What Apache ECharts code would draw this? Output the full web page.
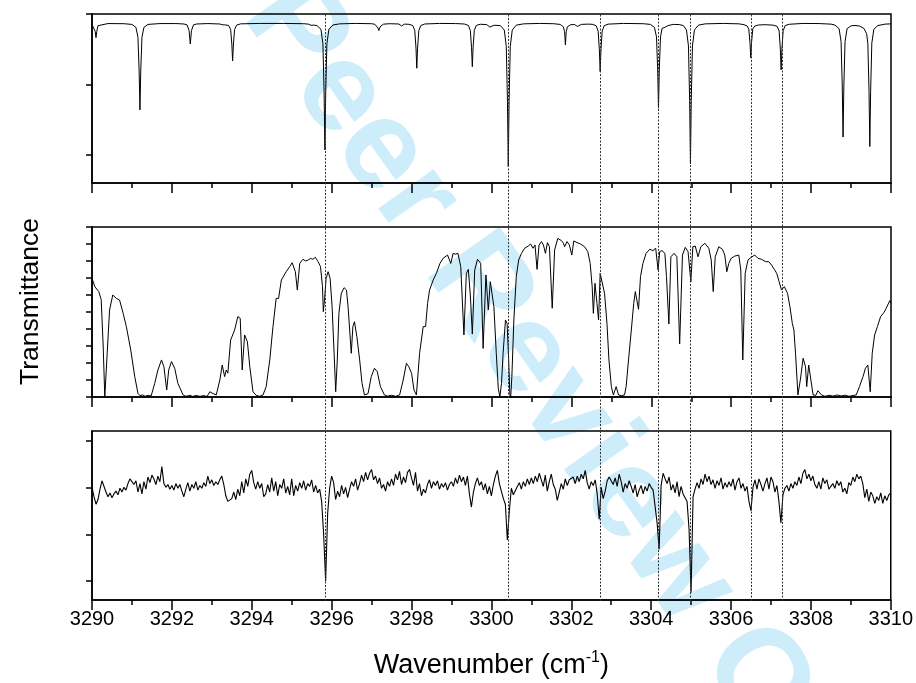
<!DOCTYPE html>
<html><head><meta charset="utf-8">
<script src="https://cdn.jsdelivr.net/npm/echarts@6/dist/echarts.min.js"></script>
<style>html,body{margin:0;padding:0;background:#fff}#c{width:916px;height:683px}</style>
</head><body><div id="c"></div>
<script>
// ---- data ----
const xRange = [3290, 3310];
const markerLines = [3295.83, 3300.42, 3302.72, 3304.18, 3304.98, 3306.49, 3307.27];

const topSpectrum = [
[3290.00,0.925],[3290.05,0.917],[3290.08,0.877],[3290.10,0.832],[3290.12,0.877],[3290.15,0.917],[3290.20,0.928],[3290.40,0.932],[3290.80,0.931],
[3291.00,0.926],[3291.10,0.905],[3291.15,0.835],[3291.18,0.595],[3291.20,0.319],[3291.22,0.595],[3291.25,0.835],[3291.30,0.905],[3291.40,0.926],[3291.70,0.932],[3292.10,0.932],
[3292.30,0.929],[3292.38,0.923],[3292.43,0.882],[3292.46,0.787],[3292.49,0.882],[3292.54,0.923],[3292.62,0.929],[3292.90,0.932],
[3293.20,0.929],[3293.26,0.924],[3293.29,0.915],[3293.32,0.923],[3293.42,0.919],[3293.47,0.890],[3293.50,0.787],[3293.52,0.667],[3293.54,0.787],[3293.57,0.890],[3293.62,0.921],[3293.72,0.930],[3294.20,0.933],[3294.80,0.933],
[3295.30,0.931],[3295.42,0.928],[3295.48,0.920],[3295.51,0.912],[3295.55,0.921],[3295.63,0.918],[3295.73,0.892],[3295.78,0.789],[3295.81,0.439],[3295.83,0.035],[3295.85,0.439],[3295.88,0.789],[3295.93,0.892],[3296.03,0.922],[3296.20,0.930],[3296.60,0.933],
[3297.00,0.931],[3297.08,0.927],[3297.13,0.915],[3297.16,0.900],[3297.18,0.882],[3297.20,0.900],[3297.23,0.915],[3297.30,0.928],[3297.45,0.931],[3297.68,0.929],[3297.75,0.915],[3297.82,0.928],
[3297.93,0.927],[3298.03,0.918],[3298.08,0.882],[3298.11,0.758],[3298.13,0.615],[3298.15,0.758],[3298.18,0.882],[3298.23,0.918],[3298.33,0.929],[3298.70,0.933],[3299.10,0.932],
[3299.32,0.929],[3299.42,0.919],[3299.47,0.884],[3299.50,0.764],[3299.52,0.626],[3299.54,0.764],[3299.57,0.884],[3299.62,0.919],[3299.72,0.927],[3299.88,0.925],[3299.93,0.915],[3299.96,0.907],[3299.99,0.914],[3300.06,0.920],
[3300.22,0.918],[3300.32,0.886],[3300.37,0.770],[3300.40,0.374],[3300.42,-0.083],[3300.44,0.374],[3300.47,0.770],[3300.52,0.886],[3300.62,0.921],[3300.80,0.930],[3301.20,0.933],[3301.55,0.931],
[3301.72,0.926],[3301.80,0.909],[3301.83,0.874],[3301.85,0.780],[3301.87,0.874],[3301.90,0.909],[3301.98,0.924],[3302.08,0.925],[3302.12,0.918],[3302.15,0.912],[3302.18,0.918],[3302.25,0.926],[3302.40,0.928],
[3302.52,0.927],[3302.62,0.917],[3302.67,0.878],[3302.70,0.745],[3302.72,0.591],[3302.74,0.745],[3302.77,0.878],[3302.82,0.917],[3302.92,0.928],[3303.30,0.933],[3303.80,0.931],
[3303.98,0.926],[3304.08,0.905],[3304.13,0.837],[3304.16,0.602],[3304.18,0.331],[3304.20,0.602],[3304.23,0.837],[3304.27,0.898],[3304.30,0.893],[3304.34,0.905],[3304.42,0.918],[3304.55,0.926],
[3304.70,0.925],[3304.80,0.918],[3304.88,0.887],[3304.93,0.773],[3304.96,0.385],[3304.98,-0.064],[3305.00,0.385],[3305.03,0.773],[3305.08,0.887],[3305.18,0.921],[3305.35,0.930],[3305.80,0.933],
[3306.20,0.930],[3306.32,0.924],[3306.40,0.915],[3306.44,0.894],[3306.47,0.799],[3306.49,0.690],[3306.51,0.799],[3306.54,0.894],[3306.59,0.914],[3306.68,0.922],[3306.85,0.924],
[3307.05,0.921],[3307.15,0.912],[3307.20,0.880],[3307.23,0.751],[3307.25,0.603],[3307.27,0.751],[3307.30,0.880],[3307.35,0.918],[3307.45,0.927],[3307.80,0.933],[3308.20,0.932],
[3308.50,0.928],[3308.60,0.921],[3308.70,0.896],[3308.75,0.804],[3308.78,0.489],[3308.80,0.126],[3308.82,0.489],[3308.85,0.804],[3308.90,0.896],[3309.00,0.916],[3309.10,0.919],
[3309.22,0.914],[3309.32,0.898],[3309.39,0.860],[3309.42,0.793],[3309.45,0.452],[3309.47,0.059],[3309.49,0.452],[3309.52,0.793],[3309.57,0.891],[3309.67,0.918],[3309.85,0.928],[3310.00,0.930]
];

const middleSpectrum = [
[3290.00,0.698],[3290.07,0.649],[3290.17,0.62],[3290.23,0.573],[3290.28,0.3],[3290.32,0.0],[3290.38,0.257],[3290.44,0.512],[3290.52,0.6],[3290.57,0.59],[3290.61,0.58],[3290.69,0.57],[3290.78,0.492],[3290.86,0.414],[3290.97,0.276],[3291.07,0.12],[3291.15,0.022],[3291.20,0.008],[3291.27,0.012],[3291.33,0.004],[3291.40,0.01],[3291.48,0.006],
[3291.57,0.08],[3291.65,0.159],[3291.74,0.218],[3291.80,0.178],[3291.87,0.041],[3291.92,0.159],[3291.99,0.208],[3292.07,0.169],[3292.15,0.08],[3292.28,0.012],[3292.35,0.004],[3292.45,0.01],[3292.52,0.003],[3292.60,0.009],[3292.70,0.004],[3292.80,0.008],[3292.88,0.003],[3292.95,0.031],[3293.03,0.02],[3293.11,0.012],
[3293.20,0.1],[3293.26,0.188],[3293.32,0.12],[3293.36,0.159],[3293.40,0.14],[3293.47,0.335],[3293.57,0.394],[3293.65,0.473],[3293.71,0.463],[3293.76,0.159],[3293.82,0.365],[3293.89,0.325],[3293.95,0.178],[3294.03,0.031],[3294.11,0.01],[3294.20,0.004],[3294.28,0.012],
[3294.36,0.061],[3294.45,0.218],[3294.53,0.414],[3294.61,0.58],[3294.67,0.58],[3294.74,0.688],[3294.86,0.737],[3294.95,0.767],[3295.01,0.79],[3295.09,0.737],[3295.14,0.629],[3295.20,0.786],[3295.28,0.81],[3295.35,0.80],[3295.41,0.806],[3295.47,0.815],[3295.53,0.81],[3295.59,0.822],[3295.66,0.796],[3295.72,0.767],
[3295.77,0.649],[3295.79,0.502],[3295.82,0.571],[3295.86,0.698],[3295.91,0.737],[3295.96,0.698],[3296.01,0.531],[3296.06,0.257],[3296.10,0.031],[3296.14,0.218],[3296.18,0.492],[3296.24,0.61],[3296.31,0.643],[3296.37,0.629],[3296.41,0.531],[3296.45,0.394],[3296.49,0.257],
[3296.53,0.414],[3296.57,0.443],[3296.63,0.355],[3296.70,0.218],[3296.76,0.08],[3296.82,0.012],[3296.91,0.02],[3296.99,0.12],[3297.07,0.169],[3297.14,0.149],[3297.22,0.061],[3297.32,0.012],[3297.40,0.005],[3297.50,0.01],[3297.60,0.004],[3297.70,0.012],
[3297.79,0.1],[3297.87,0.198],[3297.93,0.178],[3298.00,0.139],[3298.06,0.041],[3298.12,0.012],[3298.20,0.257],[3298.29,0.414],[3298.35,0.414],[3298.40,0.551],[3298.45,0.629],[3298.54,0.688],[3298.62,0.727],[3298.71,0.786],[3298.79,0.816],[3298.90,0.835],[3298.98,0.786],
[3299.04,0.845],[3299.10,0.84],[3299.16,0.845],[3299.23,0.767],[3299.31,0.365],[3299.37,0.727],[3299.42,0.751],[3299.47,0.6],[3299.52,0.37],[3299.58,0.747],[3299.65,0.81],[3299.73,0.786],[3299.79,0.286],[3299.86,0.718],[3299.92,0.512],[3299.97,0.678],
[3300.01,0.67],[3300.06,0.531],[3300.12,0.257],[3300.17,0.05],[3300.21,0.0],[3300.25,0.08],[3300.29,0.257],[3300.35,0.453],[3300.39,0.433],[3300.43,0.218],[3300.46,0.012],[3300.48,0.0],[3300.51,0.12],[3300.56,0.453],[3300.62,0.708],[3300.68,0.806],[3300.75,0.845],
[3300.83,0.875],[3300.88,0.87],[3300.92,0.888],[3300.98,0.9],[3301.04,0.875],[3301.09,0.894],[3301.14,0.751],[3301.19,0.894],[3301.25,0.914],[3301.30,0.894],[3301.35,0.845],[3301.40,0.908],[3301.45,0.884],[3301.52,0.522],[3301.58,0.865],[3301.66,0.933],[3301.70,0.925],
[3301.75,0.92],[3301.80,0.905],[3301.83,0.884],[3301.89,0.914],[3301.95,0.894],[3302.01,0.835],[3302.06,0.918],[3302.10,0.91],[3302.14,0.908],[3302.18,0.912],[3302.23,0.9],[3302.28,0.895],[3302.33,0.884],[3302.41,0.855],[3302.47,0.786],[3302.52,0.649],[3302.55,0.492],
[3302.59,0.669],[3302.64,0.551],[3302.68,0.453],[3302.72,0.727],[3302.77,0.718],[3302.83,0.61],[3302.89,0.433],[3302.94,0.218],[3303.00,0.061],[3303.05,0.012],[3303.12,0.061],[3303.18,0.012],[3303.25,0.008],[3303.33,0.012],[3303.37,0.061],[3303.43,0.218],
[3303.50,0.394],[3303.56,0.551],[3303.60,0.62],[3303.64,0.629],[3303.68,0.516],[3303.73,0.708],[3303.79,0.786],[3303.87,0.845],[3303.96,0.869],[3304.04,0.861],[3304.11,0.875],[3304.17,0.747],[3304.21,0.855],[3304.27,0.861],[3304.34,0.845],[3304.38,0.708],
[3304.44,0.429],[3304.49,0.825],[3304.57,0.845],[3304.64,0.825],[3304.71,0.312],[3304.78,0.835],[3304.85,0.88],[3304.92,0.855],[3304.99,0.678],[3305.04,0.884],[3305.10,0.888],[3305.17,0.825],[3305.24,0.884],[3305.34,0.904],[3305.44,0.875],[3305.50,0.806],
[3305.55,0.62],[3305.60,0.825],[3305.69,0.884],[3305.78,0.869],[3305.84,0.835],[3305.89,0.737],[3305.94,0.786],[3306.00,0.816],[3306.09,0.829],[3306.19,0.835],[3306.24,0.747],[3306.29,0.218],[3306.35,0.727],[3306.42,0.806],[3306.50,0.822],[3306.59,0.835],
[3306.67,0.816],[3306.76,0.81],[3306.86,0.796],[3306.94,0.796],[3307.01,0.776],[3307.08,0.751],[3307.14,0.727],[3307.20,0.678],[3307.26,0.629],[3307.33,0.649],[3307.41,0.61],[3307.47,0.531],[3307.53,0.433],[3307.57,0.394],[3307.61,0.257],[3307.67,0.012],
[3307.73,0.1],[3307.80,0.228],[3307.86,0.178],[3307.89,0.061],[3307.94,0.188],[3307.99,0.178],[3308.05,0.012],[3308.12,0.01],[3308.17,0.037],[3308.26,0.012],[3308.35,0.004],[3308.45,0.01],[3308.55,0.005],[3308.65,0.012],[3308.75,0.006],[3308.85,0.011],[3308.95,0.004],
[3309.05,0.009],[3309.13,0.012],[3309.21,0.061],[3309.30,0.12],[3309.36,0.169],[3309.42,0.188],[3309.48,0.031],[3309.53,0.257],[3309.59,0.365],[3309.66,0.414],[3309.74,0.473],[3309.82,0.496],[3309.88,0.522],[3309.97,0.567],[3310.00,0.551]
];

// bottom spectrum: sampled every 0.05 cm-1 from 3290 to 3310
const bottomStart = 3290;
const bottomStep = 0.05;
const bottomValues = [
1.000,0.990,0.982,0.987,0.998,1.007,1.006,0.995,0.990,0.994,0.989,0.993,0.996,0.992,0.999,0.995,1.000,0.997,1.004,1.009,
1.008,1.003,1.007,0.995,1.004,0.993,1.006,0.998,1.011,1.005,1.013,1.009,1.003,1.012,1.006,1.022,1.004,1.000,1.003,0.998,
1.002,0.997,1.004,0.999,1.003,0.996,0.990,0.998,1.005,0.996,1.003,0.999,1.006,0.997,1.002,0.999,1.005,1.001,1.012,1.004,
1.008,1.002,1.006,1.003,1.008,1.012,1.003,0.991,0.985,0.983,0.988,0.995,0.987,0.998,0.991,1.006,0.994,1.009,1.001,1.014,
1.018,1.005,0.998,1.006,0.999,1.004,0.990,0.993,1.003,0.995,1.010,0.996,1.006,0.991,1.003,0.999,1.009,0.994,1.001,0.992,
1.009,0.991,1.002,0.996,1.005,0.999,1.007,0.997,1.004,1.001,1.008,0.995,1.002,0.994,0.998,0.985,0.950,0.900,0.972,0.999,
1.012,1.005,0.987,0.996,0.990,1.002,0.993,1.000,0.989,0.998,1.006,1.001,1.009,0.997,1.004,1.013,1.006,1.016,1.008,1.015,
1.019,1.008,1.012,1.004,1.010,0.999,1.003,0.996,1.006,1.001,1.009,1.002,1.014,1.008,1.017,1.003,1.011,1.005,1.016,1.019,
1.010,1.002,1.016,0.996,1.004,0.991,0.998,0.994,1.003,1.008,0.999,1.006,1.002,1.007,0.998,1.004,1.000,1.005,0.997,1.003,
1.006,1.001,1.010,1.004,1.013,1.006,1.011,1.002,1.012,0.993,0.979,0.995,1.004,1.010,1.002,1.006,0.997,1.004,0.993,1.001,
0.991,1.003,1.012,1.018,1.004,0.996,0.988,0.982,0.944,0.975,0.999,0.992,0.990,1.001,1.005,0.998,1.006,1.001,1.009,1.003,
1.010,1.004,1.012,1.006,1.015,1.008,1.001,1.013,0.996,1.006,1.014,1.003,0.998,0.986,0.995,1.004,0.998,1.009,1.002,1.008,
1.007,1.011,1.004,1.012,1.006,1.014,1.009,1.018,1.005,0.998,1.006,1.002,1.008,0.993,0.966,1.000,0.988,0.996,1.007,1.011,
1.012,1.003,1.010,1.001,1.014,1.006,0.995,1.004,0.999,1.007,1.001,0.994,1.003,0.990,0.997,1.002,0.993,1.001,0.996,1.004,
1.000,0.997,0.996,0.962,0.934,1.002,1.015,1.009,1.004,1.011,0.997,1.003,0.994,1.006,0.990,1.001,0.993,0.989,0.985,0.955,
0.888,0.990,0.998,1.005,0.999,1.009,1.003,1.014,1.006,1.012,1.003,1.008,0.999,1.007,1.002,1.010,0.998,1.005,1.000,1.006,
1.001,1.009,0.997,1.006,1.010,0.999,1.004,0.996,1.001,0.985,0.975,1.000,1.008,0.998,1.009,1.003,0.996,1.004,1.010,0.998,
1.011,1.006,0.995,1.002,0.985,0.962,0.992,0.999,1.002,0.996,1.004,0.999,1.006,1.002,1.011,1.004,1.015,1.019,1.009,1.014,
1.007,1.012,1.003,0.999,1.006,0.998,1.010,1.004,1.008,0.998,0.996,1.004,0.999,1.007,1.002,1.006,0.995,0.999,0.993,1.005,
1.002,1.011,1.006,1.014,1.009,1.012,1.004,0.989,0.998,0.985,0.995,0.991,0.983,0.990,0.986,0.994,0.983,0.991,0.986,0.992,
0.994
];

const topTicks = [0, 0.5, 1.0];
const bottomTicks = [0.90, 0.95, 1.00, 1.05];
const xLabelText = 'Wavenumber (cm{s|-1})';
const yLabelText = 'Transmittance';
const watermarkText = 'For Peer Review Only';

// ---- chart ----
const bottomSpectrum = bottomValues.map((v, i) => [+(bottomStart + i * bottomStep).toFixed(2), v]);
const FONT = '"Liberation Sans", Arial, Helvetica, sans-serif';
const chart = echarts.init(document.getElementById('c'), null, {renderer: 'canvas'});

const frame = {show: true, borderColor: '#000', borderWidth: 1.5, backgroundColor: 'transparent'};
const grids = [
  Object.assign({left: 92, right: 25, top: 14, height: 169}, frame),
  Object.assign({left: 92, right: 25, top: 227, height: 170}, frame),
  Object.assign({left: 92, right: 25, top: 431, height: 170}, frame),
  {left: 92, right: 25, top: 14, height: 587, show: false}
];

function xAx(i) {
  return {
    gridIndex: i, type: 'value', min: xRange[0], max: xRange[1], interval: 2,
    axisLine: {show: true, onZero: false, lineStyle: {color: '#000', width: 1.5}},
    axisTick: {show: true, length: 10, lineStyle: {color: '#000', width: 1.5}},
    minorTick: {show: true, splitNumber: 2, length: 5, lineStyle: {color: '#000', width: 1.5}},
    splitLine: {show: false},
    axisLabel: {show: i === 2, fontSize: 20, color: '#000', fontFamily: FONT, margin: 9,
      formatter: v => String(v)},
    name: i === 2 ? xLabelText : '',
    nameLocation: 'middle', nameGap: 50,
    nameTextStyle: {fontSize: 27, color: '#000', fontFamily: FONT, lineHeight: 32,
      rich: {s: {fontSize: 16, fontFamily: FONT, color: '#000', verticalAlign: 'top', lineHeight: 17}}}
  };
}
function yAx(i, extra) {
  return Object.assign({
    gridIndex: i, type: 'value',
    axisLine: {show: true, onZero: false, lineStyle: {color: '#000', width: 1.5}},
    axisTick: {show: true, length: 6, lineStyle: {color: '#000', width: 1.5}},
    axisLabel: {show: false}, splitLine: {show: false}
  }, extra);
}

const option = {
  animation: false,
  backgroundColor: '#fff',
  grid: grids,
  xAxis: [xAx(0), xAx(1), xAx(2), {gridIndex: 3, type: 'value', min: xRange[0], max: xRange[1], show: false}],
  yAxis: [
    yAx(0, {min: -0.2, max: 1.0, axisTick: {show: true, length: 6, customValues: topTicks, lineStyle: {color: '#000', width: 1.5}}}),
    yAx(1, {min: 0, max: 1, interval: 0.1}),
    yAx(2, {min: 0.88, max: 1.06, axisTick: {show: true, length: 6, customValues: bottomTicks, lineStyle: {color: '#000', width: 1.5}}}),
    {gridIndex: 3, type: 'value', min: 0, max: 1, axisLine: {show: false}, axisTick: {show: false},
     axisLabel: {show: false}, splitLine: {show: false},
     name: yLabelText, nameLocation: 'middle', nameGap: 48,
     nameTextStyle: {fontSize: 26.5, color: '#000', fontFamily: FONT, padding: [0, 0, 0, 12]}}
  ],
  graphic: {elements: [{
    type: 'text', x: 130, y: -202, rotation: -54.6 * Math.PI / 180, z: -100, silent: true,
    style: {text: watermarkText, font: 'bold 128px "Liberation Sans", Arial, sans-serif', fill: '#cdedfb',
      textAlign: 'left', textVerticalAlign: 'middle'}
  }]},
  series: [
    {type: 'line', xAxisIndex: 0, yAxisIndex: 0, data: topSpectrum, showSymbol: false, symbol: 'none',
     lineStyle: {color: '#000', width: 1}, z: 3},
    {type: 'line', xAxisIndex: 1, yAxisIndex: 1, data: middleSpectrum, showSymbol: false, symbol: 'none',
     lineStyle: {color: '#000', width: 1}, z: 3},
    {type: 'line', xAxisIndex: 2, yAxisIndex: 2, data: bottomSpectrum, showSymbol: false, symbol: 'none',
     lineStyle: {color: '#000', width: 1.1}, z: 3},
    {type: 'line', xAxisIndex: 3, yAxisIndex: 3, data: [[xRange[0], -1]], showSymbol: false, symbol: 'none',
     lineStyle: {opacity: 0}, z: 4,
     markLine: {silent: true, symbol: ['none', 'none'], label: {show: false},
       lineStyle: {color: '#333', width: 1, type: [2, 1.5]},
       data: markerLines.map(v => ({xAxis: v}))}}
  ]
};
chart.setOption(option);
</script>
</body></html>
